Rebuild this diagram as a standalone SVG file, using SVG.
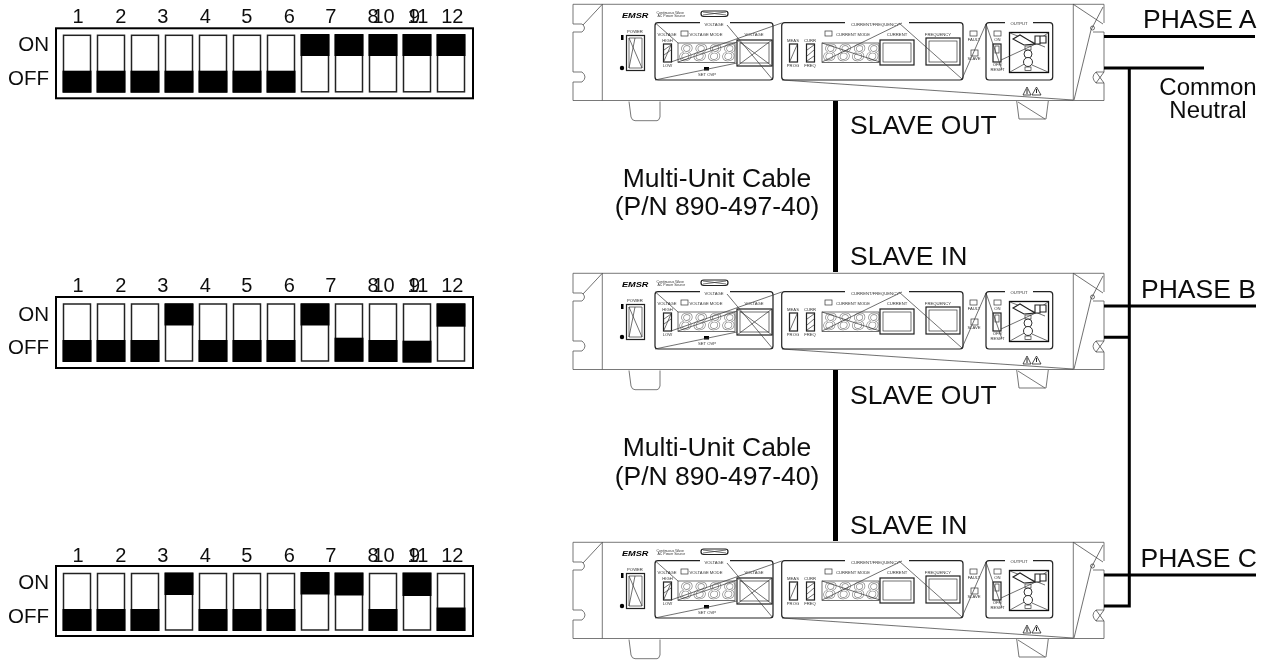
<svg xmlns="http://www.w3.org/2000/svg" width="1270" height="660" viewBox="0 0 1270 660">
<style>
text{font-family:"Liberation Sans",Arial,sans-serif;fill:#111}
.l{font-size:26.5px}
.m{font-size:24px;text-anchor:middle}
.n{font-size:20px;text-anchor:middle}
.s{font-size:20.500px;text-anchor:end}
.t{font-size:4.2px;fill:#333;text-anchor:middle}
.c{fill:none;stroke:#000;stroke-width:3}
.cable{fill:none;stroke:#000;stroke-width:5}
.box{fill:#fff;stroke:#000;stroke-width:2}
.sw{fill:#fff;stroke:#222;stroke-width:1.5}
.k{fill:#050505}
.r{fill:none;stroke:#555;stroke-width:.8}
.d{fill:none;stroke:#333;stroke-width:.7}
.p{fill:none;stroke:#222;stroke-width:1.200}
.sg{font-size:24px;font-style:italic;fill:none;stroke:#777;stroke-width:.6;letter-spacing:1px}
.soft{filter:url(#soft)}
</style>
<defs>
<filter id="soft" x="-2%" y="-5%" width="104%" height="110%"><feGaussianBlur stdDeviation=".35"/></filter>
<g id="rack">
<path class="r" d="M1104 23V4.300H573V24H582Q587 28 582 32H573V72H582Q588 77 582 82H573V100.500H1104V83H1096Q1090 77 1096 72H1104V32H1093"/>
<path class="r" d="M602.300 4.300V100.500M1073.300 4.300V100.500"/>
<path class="d" d="M602.300 4.300L583 25M1073.300 4.300L1103 24M1103 7L1091 30L1074 100M1096 72L1104 83M1096 83L1104 72"/>
<circle class="d" cx="1092.500" cy="28" r="2"/>
<path class="r" d="M629 101.500L631 117Q632 120.700 635 120.700H657Q659 120.700 660 117L660 101.500"/>
<path class="r" d="M1016.700 101L1019 119H1046L1048.300 101M1018 102L1045 119"/>
<text x="622" y="17.500" textLength="26.500" lengthAdjust="spacingAndGlyphs" style="font-size:8px;font-weight:bold;font-style:italic;fill:#000">EMSR</text>
<text x="656.500" y="13.500" style="font-size:3.500px;fill:#333">Continuous Wave</text>
<text x="657.500" y="16.800" style="font-size:3.500px;fill:#333">AC Power Source</text>
<rect class="p" x="701" y="11" width="27" height="5.500" rx="2.700"/>
<path class="d" d="M703 15L726 12M703 12L726 15"/>
<text class="t" x="635" y="33">POWER</text>
<rect x="621" y="35" width="2.500" height="5" class="k"/>
<circle class="k" cx="622" cy="68" r="2.200"/>
<rect class="p" x="626.500" y="35.500" width="18" height="35"/>
<path class="d" d="M629 38H642V68H629ZM629 38L642 68M635 38L629 68"/>
<rect class="p" x="655" y="22.700" width="118" height="57.300" rx="3"/>
<rect x="700" y="20.500" width="30" height="4" fill="#fff"/>
<text class="t" x="714" y="25.500">VOLTAGE</text>
<text class="t" x="667" y="35.500">VOLTAGE</text>
<rect class="d" x="681" y="31" width="7" height="5"/>
<text class="t" x="706" y="35.500">VOLTAGE MODE</text>
<text class="t" x="754" y="35.500">VOLTAGE</text>
<text class="t" x="667.500" y="42">HIGH</text>
<rect class="p" x="663.500" y="44" width="8" height="18"/>
<path class="d" d="M664 61L671 45M664 50L671 45M664 55L671 50"/>
<text class="t" x="667.500" y="67">LOW</text>
<rect class="d" x="678" y="43" width="57" height="19.500"/>
<text class="sg" x="679" y="60.500">8888</text>
<rect class="p" x="737" y="40" width="35" height="26"/>
<rect class="d" x="740" y="43" width="29" height="20"/>
<path class="d" d="M737 40L772 66M737 66L772 40"/>
<rect class="k" x="704" y="67" width="5" height="3.500"/>
<text class="t" x="707" y="76">SET OVP</text>
<path class="d" d="M655 22.700L678 43M727 25L773 80M655 80L737 63M671 62L781.700 23M678 62L737 42"/>
<rect class="p" x="781.700" y="22.700" width="181.300" height="57.300" rx="3"/>
<rect x="845" y="20.500" width="64" height="4" fill="#fff"/>
<text class="t" x="875" y="25.500">CURRENT/FREQUENCY</text>
<rect class="d" x="825" y="31" width="7" height="5"/>
<text class="t" x="853" y="35.500">CURRENT MODE</text>
<text class="t" x="897" y="35.500">CURRENT</text>
<text class="t" x="938" y="35.500">FREQUENCY</text>
<text class="t" x="793" y="42">MEAS</text>
<text class="t" x="810" y="42">CURR</text>
<rect class="p" x="789.500" y="44" width="8" height="18"/>
<rect class="p" x="806.500" y="44" width="8" height="18"/>
<path class="d" d="M790 61L797 45M807 50L814 45M807 56L814 50M807 61L814 56"/>
<text class="t" x="793" y="67">PROG</text>
<text class="t" x="810" y="67">FREQ</text>
<rect class="d" x="822" y="43" width="57" height="19.500"/>
<text class="sg" x="823" y="60.500">8888</text>
<rect class="p" x="880" y="40" width="34" height="25"/>
<rect class="d" x="883" y="43" width="28" height="19"/>
<rect class="p" x="926" y="38" width="34" height="27"/>
<rect class="d" x="929" y="41" width="28" height="21"/>
<path class="d" d="M782 80L1073 100M822 62L902 23M822 43L880 62M899 23L962 79"/>
<rect class="d" x="970" y="31" width="7" height="5"/>
<text class="t" x="974" y="41">FAULT</text>
<rect class="d" x="971" y="50" width="7" height="6"/>
<text class="t" x="974" y="60">SLAVE</text>
<path class="d" d="M962 79L986 24"/>
<rect class="p" x="986" y="22.700" width="66.700" height="57.300" rx="3"/>
<rect x="1005" y="20.500" width="28" height="4" fill="#fff"/>
<text class="t" x="1019" y="25">OUTPUT</text>
<rect class="d" x="994" y="31" width="7" height="5"/>
<text class="t" x="997.500" y="41">ON</text>
<rect class="p" x="993" y="44" width="8" height="18"/>
<rect class="d" x="995" y="46" width="4" height="7"/>
<text class="t" x="997.500" y="66">OFF/</text>
<text class="t" x="997.500" y="70.500">RESET</text>
<rect fill="#fff" stroke="#111" stroke-width="1.300" x="1009.500" y="32.500" width="39" height="40"/>
<path class="d" d="M986 24L1002 70M1001 60L1040 42M1010 72L1028 62M1048 72L1032 65M1010 33L1045 47M1048 33L1035 42"/>
<path fill="#fff" stroke="#222" stroke-width="1.100" d="M1013 39L1020 35L1035 44L1024 45ZM1035 36H1040V44H1035ZM1040 36H1046V43H1040Z"/>
<rect class="d" x="1025" y="46" width="6" height="4"/>
<circle fill="#fff" stroke="#333" stroke-width="1" cx="1028" cy="54" r="4"/>
<circle fill="#fff" stroke="#333" stroke-width="1" cx="1028" cy="62" r="4.500"/>
<rect class="d" x="1025" y="67" width="6" height="3.500"/>
<path fill="#fff" stroke="#222" stroke-width=".8" d="M1023 95L1027 87L1031 95ZM1032 95L1036.500 87L1041 95Z"/>
<path stroke="#222" stroke-width="1" d="M1027 89V94M1036.500 89V93"/>
</g>
</defs>

<g id="dip-a" class="soft">
<rect class="box" x="56" y="28.300" width="417" height="70"/>
<rect class="sw" x="63.500" y="35.300" width="27" height="56.500"/><rect class="k" x="62.500" y="70.700" width="29" height="22"/>
<rect class="sw" x="97.500" y="35.300" width="27" height="56.500"/><rect class="k" x="96.500" y="70.700" width="29" height="22"/>
<rect class="sw" x="131.500" y="35.300" width="27" height="56.500"/><rect class="k" x="130.500" y="70.700" width="29" height="22"/>
<rect class="sw" x="165.500" y="35.300" width="27" height="56.500"/><rect class="k" x="164.500" y="70.700" width="29" height="22"/>
<rect class="sw" x="199.500" y="35.300" width="27" height="56.500"/><rect class="k" x="198.500" y="70.700" width="29" height="22"/>
<rect class="sw" x="233.500" y="35.300" width="27" height="56.500"/><rect class="k" x="232.500" y="70.700" width="29" height="22"/>
<rect class="sw" x="267.500" y="35.300" width="27" height="56.500"/><rect class="k" x="266.500" y="70.700" width="29" height="22"/>
<rect class="sw" x="301.500" y="35.300" width="27" height="56.500"/><rect class="k" x="300.500" y="34" width="29" height="22"/>
<rect class="sw" x="335.500" y="35.300" width="27" height="56.500"/><rect class="k" x="334.500" y="34" width="29" height="22"/>
<rect class="sw" x="369.500" y="35.300" width="27" height="56.500"/><rect class="k" x="368.500" y="34" width="29" height="22"/>
<rect class="sw" x="403.500" y="35.300" width="27" height="56.500"/><rect class="k" x="402.500" y="34" width="29" height="22"/>
<rect class="sw" x="437.500" y="35.300" width="27" height="56.500"/><rect class="k" x="436.500" y="34" width="29" height="22"/>
<text class="s" x="49" y="50.700">ON</text><text class="s" x="49" y="84.700">OFF</text>
<text class="n" x="78" y="23.300">1</text><text class="n" x="120.700" y="23.300">2</text><text class="n" x="162.700" y="23.300">3</text><text class="n" x="205.300" y="23.300">4</text><text class="n" x="246.700" y="23.300">5</text><text class="n" x="289.300" y="23.300">6</text><text class="n" x="330.700" y="23.300">7</text><text class="n" x="373" y="23.300">8</text><text class="n" x="383.500" y="23.300">10</text><text class="n" x="414.500" y="23.300">9</text><text class="n" x="418" y="23.300">11</text><text class="n" x="452.300" y="23.300">12</text>
</g>

<g id="dip-b" class="soft">
<rect class="box" x="56" y="297" width="417" height="71"/>
<rect class="sw" x="63.500" y="304" width="27" height="57"/><rect class="k" x="62.500" y="340" width="29" height="22"/>
<rect class="sw" x="97.500" y="304" width="27" height="57"/><rect class="k" x="96.500" y="340" width="29" height="22"/>
<rect class="sw" x="131.500" y="304" width="27" height="57"/><rect class="k" x="130.500" y="340" width="29" height="22"/>
<rect class="sw" x="165.500" y="304" width="27" height="57"/><rect class="k" x="164.500" y="303.500" width="29" height="22"/>
<rect class="sw" x="199.500" y="304" width="27" height="57"/><rect class="k" x="198.500" y="340" width="29" height="22"/>
<rect class="sw" x="233.500" y="304" width="27" height="57"/><rect class="k" x="232.500" y="340" width="29" height="22"/>
<rect class="sw" x="267.500" y="304" width="27" height="57"/><rect class="k" x="266.500" y="340" width="29" height="22"/>
<rect class="sw" x="301.500" y="304" width="27" height="57"/><rect class="k" x="300.500" y="303.500" width="29" height="22"/>
<rect class="sw" x="335.500" y="304" width="27" height="57"/><rect class="k" x="334.500" y="337.700" width="29" height="24"/>
<rect class="sw" x="369.500" y="304" width="27" height="57"/><rect class="k" x="368.500" y="340" width="29" height="22"/>
<rect class="sw" x="403.500" y="304" width="27" height="57"/><rect class="k" x="402.500" y="340.700" width="29" height="22"/>
<rect class="sw" x="437.500" y="304" width="27" height="57"/><rect class="k" x="436.500" y="303.500" width="29" height="23.200"/>
<text class="s" x="49" y="320.700">ON</text><text class="s" x="49" y="354">OFF</text>
<text class="n" x="78" y="292">1</text><text class="n" x="120.700" y="292">2</text><text class="n" x="162.700" y="292">3</text><text class="n" x="205.300" y="292">4</text><text class="n" x="246.700" y="292">5</text><text class="n" x="289.300" y="292">6</text><text class="n" x="330.700" y="292">7</text><text class="n" x="373" y="292">8</text><text class="n" x="383.500" y="292">10</text><text class="n" x="414.500" y="292">9</text><text class="n" x="418" y="292">11</text><text class="n" x="452.300" y="292">12</text>
</g>

<g id="dip-c" class="soft">
<rect class="box" x="56" y="566" width="417" height="70"/>
<rect class="sw" x="63.500" y="573.500" width="27" height="56.500"/><rect class="k" x="62.500" y="609" width="29" height="22"/>
<rect class="sw" x="97.500" y="573.500" width="27" height="56.500"/><rect class="k" x="96.500" y="609" width="29" height="22"/>
<rect class="sw" x="131.500" y="573.500" width="27" height="56.500"/><rect class="k" x="130.500" y="609" width="29" height="22"/>
<rect class="sw" x="165.500" y="573.500" width="27" height="56.500"/><rect class="k" x="164.500" y="572.500" width="29" height="22.500"/>
<rect class="sw" x="199.500" y="573.500" width="27" height="56.500"/><rect class="k" x="198.500" y="609" width="29" height="22"/>
<rect class="sw" x="233.500" y="573.500" width="27" height="56.500"/><rect class="k" x="232.500" y="609" width="29" height="22"/>
<rect class="sw" x="267.500" y="573.500" width="27" height="56.500"/><rect class="k" x="266.500" y="609" width="29" height="22"/>
<rect class="sw" x="301.500" y="573.500" width="27" height="56.500"/><rect class="k" x="300.500" y="572" width="29" height="22.500"/>
<rect class="sw" x="335.500" y="573.500" width="27" height="56.500"/><rect class="k" x="334.500" y="572.500" width="29" height="23"/>
<rect class="sw" x="369.500" y="573.500" width="27" height="56.500"/><rect class="k" x="368.500" y="609" width="29" height="22"/>
<rect class="sw" x="403.500" y="573.500" width="27" height="56.500"/><rect class="k" x="402.500" y="572.500" width="29" height="23.500"/>
<rect class="sw" x="437.500" y="573.500" width="27" height="56.500"/><rect class="k" x="436.500" y="607.500" width="29" height="23.500"/>
<text class="s" x="49" y="589">ON</text><text class="s" x="49" y="622.700">OFF</text>
<text class="n" x="78" y="561.700">1</text><text class="n" x="120.700" y="561.700">2</text><text class="n" x="162.700" y="561.700">3</text><text class="n" x="205.300" y="561.700">4</text><text class="n" x="246.700" y="561.700">5</text><text class="n" x="289.300" y="561.700">6</text><text class="n" x="330.700" y="561.700">7</text><text class="n" x="373" y="561.700">8</text><text class="n" x="383.500" y="561.700">10</text><text class="n" x="414.500" y="561.700">9</text><text class="n" x="418" y="561.700">11</text><text class="n" x="452.300" y="561.700">12</text>
</g>

<g id="unit-a" class="soft"><use href="#rack"/></g>
<g id="unit-b" class="soft"><use href="#rack" y="269"/></g>
<g id="unit-c" class="soft"><use href="#rack" y="538"/></g>

<g id="connectors" class="soft">
<path class="cable" d="M835.500 101V272M835.500 370V541"/>
<path class="c" d="M1104 36.500H1255M1104 68H1204M1129.300 68V606H1104M1104 306H1256M1104 337.300H1129.300M1104 575H1256"/>
</g>

<g id="labels" class="soft">
<text class="l" x="1143" y="28">PHASE A</text>
<text class="l" x="1141" y="297.500">PHASE B</text>
<text class="l" x="1140.500" y="566.500">PHASE C</text>
<text class="m" x="1208" y="95">Common</text>
<text class="m" x="1208" y="118">Neutral</text>
<text class="l" x="850" y="134.300">SLAVE OUT</text>
<text class="l" x="850" y="265">SLAVE IN</text>
<text class="l" x="850" y="403.500">SLAVE OUT</text>
<text class="l" x="850" y="534">SLAVE IN</text>
<text class="l" x="717" y="187" text-anchor="middle">Multi-Unit Cable</text>
<text class="l" x="717" y="215" text-anchor="middle">(P/N 890-497-40)</text>
<text class="l" x="717" y="456" text-anchor="middle">Multi-Unit Cable</text>
<text class="l" x="717" y="485" text-anchor="middle">(P/N 890-497-40)</text>
</g>
</svg>
